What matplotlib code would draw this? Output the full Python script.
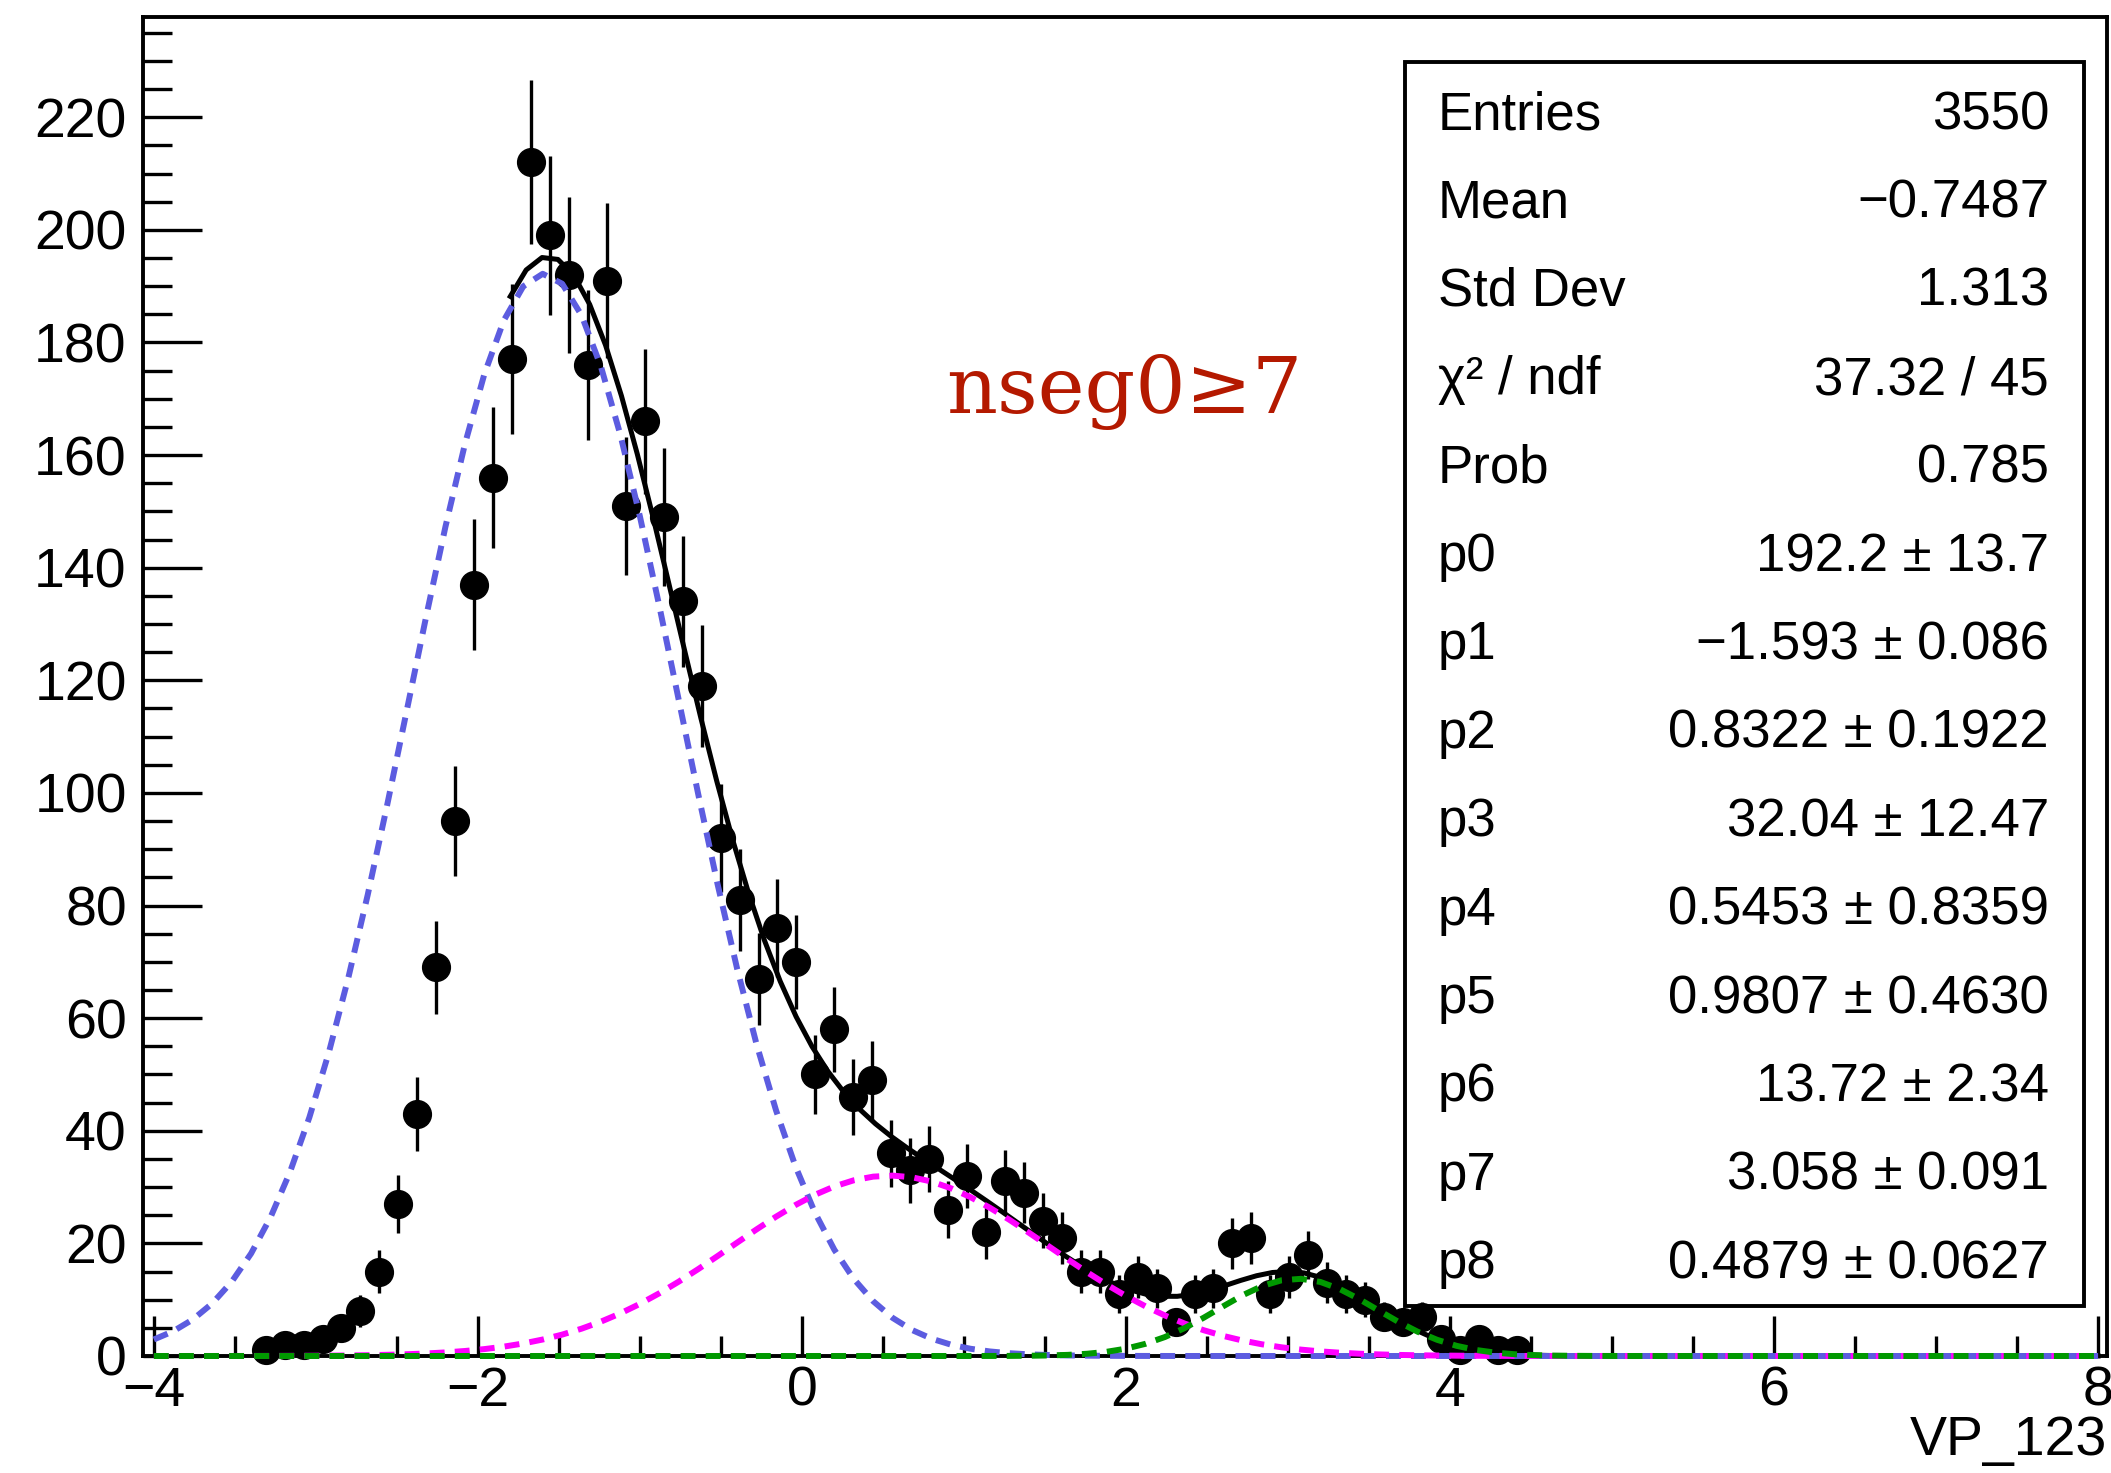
import numpy as np
import matplotlib
matplotlib.use("Agg")
import matplotlib.pyplot as plt
from matplotlib.patches import Rectangle
from matplotlib.ticker import MultipleLocator

plt.rcParams['font.family'] = ['Liberation Sans', 'DejaVu Sans']

# ---------------------------------------------------------
# Histogram data (VP_123, nseg0 >= 7)
# ---------------------------------------------------------

bin_first = -3.31     # centre of the first filled bin
bin_width = 0.117

counts = [1, 2, 2, 3, 5, 8, 15, 27, 43, 69,
          95, 137, 156, 177, 212, 199, 192, 176, 191, 151,
          166, 149, 134, 119, 92, 81, 67, 76, 70, 50,
          58, 46, 49, 36, 33, 35, 26, 32, 22, 31,
          29, 24, 21, 15, 15, 11, 14, 12, 6, 11,
          12, 20, 21, 11, 14, 18, 13, 11, 10, 7,
          6, 7, 3, 1, 3, 1, 1]

# fit: gaus(p0,p1,p2) + gaus(p3,p4,p5) + gaus(p6,p7,p8)
params = [192.2, -1.593, 0.8322, 32.04, 0.5453, 0.9807, 13.72, 3.058, 0.4879]
fit_range = (-1.8, 8.0)
comp_range = (-4.0, 8.0)
comp_colors = ["#5c5ce0", "#ff00ff", "#009900"]

stats_labels = ["Entries", "Mean", "Std Dev", "χ² / ndf", "Prob",
                "p0", "p1", "p2", "p3", "p4", "p5", "p6", "p7", "p8"]
stats_values = ["3550", "\u22120.7487", "1.313", "37.32 / 45", "0.785",
                "192.2 ± 13.7", "\u22121.593 ± 0.086", "0.8322 ± 0.1922",
                "32.04 ± 12.47", "0.5453 ± 0.8359", "0.9807 ± 0.4630",
                "13.72 ± 2.34", "3.058 ± 0.091", "0.4879 ± 0.0627"]

cut_label = "nseg0≥7"


def gaus(x, a, m, s):
    return a * np.exp(-0.5 * ((x - m) / s) ** 2)


counts = np.array(counts, dtype=float)
x = bin_first + bin_width * np.arange(len(counts))

# ---------------------------------------------------------
# Figure / frame
# ---------------------------------------------------------

W, H = 2111, 1473
fig = plt.figure(figsize=(W / 100, H / 100), dpi=100)
ax = fig.add_axes([143 / W, 117 / H, (2107 - 143) / W, (1356 - 17) / H])
ax.set_xlim(-4.067, 8.055)
ax.set_ylim(0, 237.8)

for sp in ax.spines.values():
    sp.set_linewidth(2.8)

ax.xaxis.set_major_locator(MultipleLocator(2))
ax.xaxis.set_minor_locator(MultipleLocator(0.5))
ax.yaxis.set_major_locator(MultipleLocator(20))
ax.yaxis.set_minor_locator(MultipleLocator(5))

ax.tick_params(axis="both", which="both", direction="in", width=2.4,
               labelsize=40, top=False, right=False)
ax.tick_params(axis="x", which="major", length=28.8, pad=7)
ax.tick_params(axis="x", which="minor", length=14.4)
ax.tick_params(axis="y", which="major", length=42.5, pad=11.7)
ax.tick_params(axis="y", which="minor", length=21.2)

# ---------------------------------------------------------
# Data points with sqrt(N) errors
# ---------------------------------------------------------

err = np.sqrt(counts)
ax.vlines(x, counts - err, counts + err, color="black", lw=2.4,
          zorder=3, clip_on=False)
ax.plot(x, counts, "o", color="black", ms=20, zorder=3, clip_on=False)

# ---------------------------------------------------------
# Fit curves
# ---------------------------------------------------------

xf = np.linspace(fit_range[0], fit_range[1], 101)
total = (gaus(xf, *params[0:3]) + gaus(xf, *params[3:6])
         + gaus(xf, *params[6:9]))
ax.plot(xf, total, color="black", lw=3.6, zorder=4, clip_on=False)

xc = np.linspace(comp_range[0], comp_range[1], 101)
for i, col in enumerate(comp_colors):
    ax.plot(xc, gaus(xc, *params[3 * i:3 * i + 3]), color=col, lw=4.3,
            linestyle=(0, (2.5, 1.7)), zorder=5 + i, clip_on=False)

# ---------------------------------------------------------
# Stats box
# ---------------------------------------------------------

bx0, bx1, by0, by1 = 1405, 2084, 62, 1306
ax.add_patch(Rectangle((bx0 / W, 1 - by1 / H), (bx1 - bx0) / W, (by1 - by0) / H,
                       transform=fig.transFigure, facecolor="white",
                       edgecolor="black", lw=2.8, zorder=2.8, clip_on=False))
row_h = 88.4
for i, (lab, val) in enumerate(zip(stats_labels, stats_values)):
    yb = 1 - (by0 + row_h * i + 67) / H
    fig.text(1438 / W, yb, lab, fontsize=38, va="baseline", ha="left")
    fig.text(2049 / W, yb, val, fontsize=38, va="baseline", ha="right")

# ---------------------------------------------------------
# Labels
# ---------------------------------------------------------

fig.text(2107 / W, 1 - 1455 / H, "VP_123", fontsize=40, ha="right", va="baseline")
fig.text(946 / W, 1 - 413 / H, cut_label, fontsize=57, color="#b41900",
         family="DejaVu Serif", ha="left", va="baseline")

fig.savefig("out.png", dpi=100)
